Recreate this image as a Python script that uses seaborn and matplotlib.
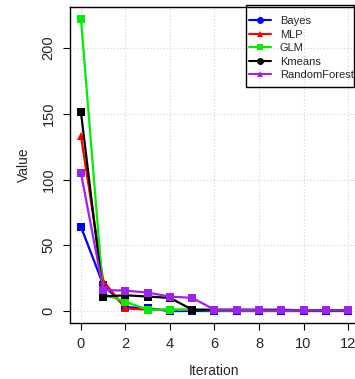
import matplotlib
matplotlib.use("Agg")
import matplotlib.pyplot as plt
from matplotlib.lines import Line2D
from matplotlib.patches import Rectangle
import seaborn as sns
import pandas as pd

iterations = list(range(13))
bayes = [64, 20, 3, 2, 0, 0, 0, 0, 0, 0, 0, 0, 0]
mlp = [133, 23, 2, 1, 1, 1, 0.5, 0.5, 0.5, 0.5, 0.5, 0.5, 0.5]
glm = [222, 13, 7, 1, 1, 1, 0.5, 0.5, 0.5, 0.5, 0.5, 0.5, 0.5]
kmeans = [151, 11, 12, 11, 10, 1, 1, 1, 1, 1, 0.5, 0.5, 0.5]
rforest = [105, 16, 15.5, 14, 11, 10, 1, 1, 0.5, 0.5, 0.5, 0.5, 0.5]

names = ["Bayes", "MLP", "GLM", "Kmeans", "RandomForest"]
series = [bayes, mlp, glm, kmeans, rforest]
colors = ["#0000FF", "#FF0000", "#00EE00", "#000000", "#A020F0"]
plot_markers = ["s", "^", "s", "s", "s"]
legend_markers = ["o", "^", "s", "o", "^"]

sns.set_style("white")
plt.rcParams["font.family"] = ["Liberation Sans", "DejaVu Sans"]

W, H = 355, 379
fig = plt.figure(figsize=(W / 100, H / 100), dpi=100)
ax = fig.add_axes([70.3 / W, 56.3 / H, 288.4 / W, 315.3 / H])

for name, vals, c, m in zip(names, series, colors, plot_markers):
    df = pd.DataFrame({"Iteration": iterations, "Value": vals})
    sns.lineplot(data=df, x="Iteration", y="Value", color=c, marker=m,
                 markersize=5.5, markeredgewidth=0, linewidth=1.6, ax=ax,
                 legend=False)

ax.set_xlim(-0.48, 12.48)
ax.set_ylim(-8.88, 230.9)
ax.set_xticks(range(0, 13, 2))
ax.set_yticks(range(0, 201, 50))
ax.grid(True, color="#D3D3D3", linestyle=(0, (1, 2)), linewidth=0.8)
ax.set_axisbelow(True)
for s in ax.spines.values():
    s.set_color("black")
    s.set_linewidth(1.0)
ax.tick_params(axis="both", which="both", direction="out", length=5,
               width=0.8, color="black", labelsize=10.5, pad=5.5,
               bottom=True, left=True)
for lbl in ax.get_yticklabels():
    lbl.set_rotation(90)
    lbl.set_va("center")
ax.set_xlabel("Iteration", fontsize=10, labelpad=9)
ax.set_ylabel("Value", fontsize=10, labelpad=8)

handles = [Line2D([0], [0], color=c, marker=m, markersize=5, linewidth=1.5,
                  markeredgewidth=0)
           for c, m in zip(colors, legend_markers)]
leg = fig.legend(handles, names, loc="upper left",
                 bbox_to_anchor=(249 / W, 1 - 16.3 / H),
                 fontsize=8, frameon=False,
                 handlelength=1.98, handletextpad=0.78, borderpad=0,
                 labelspacing=0.31, borderaxespad=0)
fig.patches.append(Rectangle((246 / W, 1 - 87 / H), (354 - 246) / W,
                             (87 - 5) / H, transform=fig.transFigure,
                             facecolor="none", edgecolor="black",
                             linewidth=1.0, zorder=2))
leg.set_zorder(3)

fig.savefig("out.png", dpi=100)
